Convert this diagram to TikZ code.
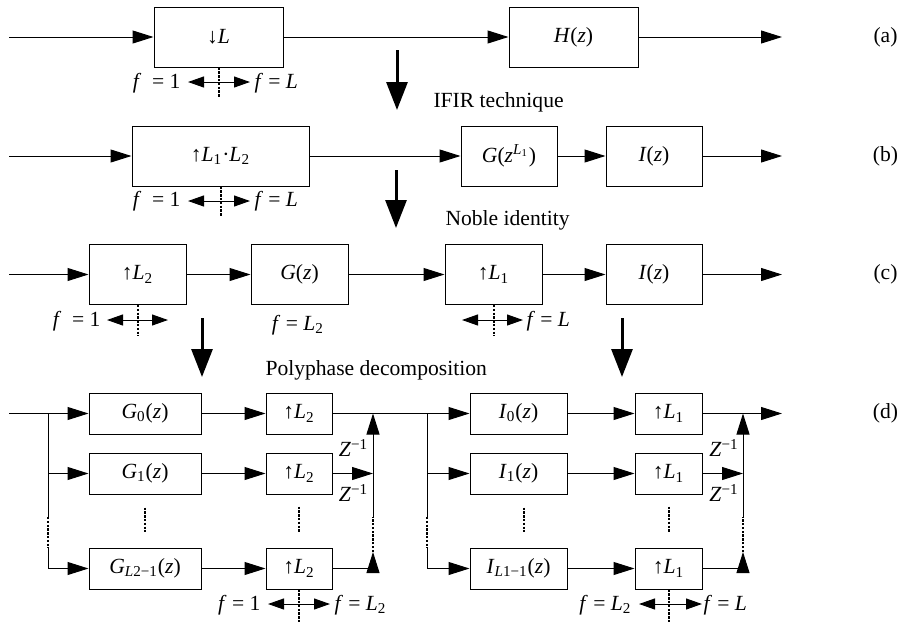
\documentclass[tikz,border=0pt]{standalone}
\usepackage{fontspec}
\setmainfont{Liberation Serif}
\usetikzlibrary{arrows.meta}
\begin{document}
\begin{tikzpicture}[x=0.5pt, y=-0.5pt, line width=0.5pt,
  font=\fontsize{10.8}{13}\selectfont,
  blk/.style={draw, inner sep=0pt, minimum height=30pt},
  sblk/.style={draw, inner sep=0pt, minimum height=20.5pt},
  sig/.style={-{Triangle[length=10.5pt,width=6.5pt]}},
  rng/.style={{Triangle[length=8pt,width=5.5pt]}-{Triangle[length=8pt,width=5.5pt]}},
  cut/.style={line width=1pt, dash pattern=on 1.2pt off 0.7pt},
  nextarr/.style={line width=1.5pt, -{Triangle[length=14pt,width=10.5pt]}},
  lbl/.style={inner sep=0pt}]
\useasboundingbox (0,0) rectangle (907,622);

% (a)
\node[blk, minimum width=64.5pt] (dn) at (218.5,37) {↓\textit{L}};
\node[blk, minimum width=64.5pt] (hz) at (573.5,37) {\textit{H}(\textit{z})};
\coordinate (ain) at (9,37);
\coordinate (aout) at (782,37);
\draw[sig] (ain) -- (dn);
\draw[sig] (dn) -- (hz);
\draw[sig] (hz) -- (aout);
\node (la) at (885.5,37) {(a)};
\draw[cut] (dn.south) -- ++(0,30);
\draw[rng] (188,82) -- (250,82);
\node[lbl, anchor=base east] (fa1) at (181,88) {\textit{f}\enspace= 1};
\node[lbl, anchor=base west] (fa2) at (254,88) {\textit{f} = \textit{L}};
\draw[nextarr] (397,50) -- (397,110);
\node[lbl, anchor=base west] (t1) at (433,107) {IFIR technique};

% (b)
\node[blk, minimum width=88.5pt] (up) at (220.5,156) {↑\textit{L}\textsubscript{1}·\textit{L}\textsubscript{2}};
\node[blk, minimum width=48pt] (gl) at (509,156) {\textit{G}(\textit{z}\textsuperscript{\textit{L}\textsubscript{1}})};
\node[blk, minimum width=48pt] (ib) at (654,156) {\textit{I}(\textit{z})};
\coordinate (bin) at (9,156);
\coordinate (bout) at (782,156);
\draw[sig] (bin) -- (up);
\draw[sig] (up) -- (gl);
\draw[sig] (gl) -- (ib);
\draw[sig] (ib) -- (bout);
\node (lb) at (885.5,156) {(b)};
\draw[cut] (up.south) -- ++(0,30);
\draw[rng] (188,201) -- (250,201);
\node[lbl, anchor=base east] (fb1) at (181,206) {\textit{f}\enspace= 1};
\node[lbl, anchor=base west] (fb2) at (254,206) {\textit{f} = \textit{L}};
\draw[nextarr] (396,170) -- (396,228);
\node[lbl, anchor=base west] (t2) at (445,225) {Noble identity};

% (c)
\node[blk, minimum width=48.5pt] (upb) at (137.5,274.5) {↑\textit{L}\textsubscript{2}};
\node[blk, minimum width=48.5pt] (gz) at (299.5,274.5) {\textit{G}(\textit{z})};
\node[blk, minimum width=48.5pt] (upa) at (493.5,274.5) {↑\textit{L}\textsubscript{1}};
\node[blk, minimum width=48pt] (ic) at (654,274.5) {\textit{I}(\textit{z})};
\coordinate (cin) at (9,274.5);
\coordinate (cout) at (782,274.5);
\draw[sig] (cin) -- (upb);
\draw[sig] (upb) -- (gz);
\draw[sig] (gz) -- (upa);
\draw[sig] (upa) -- (ic);
\draw[sig] (ic) -- (cout);
\node (lc) at (885.5,274.5) {(c)};
\draw[cut] (upb.south) -- ++(0,31);
\draw[rng] (107,320) -- (168,320);
\node[lbl, anchor=base east] (fc1) at (101,326) {\textit{f}\enspace= 1};
\node[lbl, anchor=base] (fc2) at (298,330) {\textit{f} = \textit{L}\textsubscript{2}};
\draw[cut] (upa.south) -- ++(0,31);
\draw[rng] (462,320) -- (523,320);
\node[lbl, anchor=base west] (fc3) at (526,326) {\textit{f} = \textit{L}};
\draw[nextarr] (202,318) -- (202,377);
\draw[nextarr] (622,318) -- (622,377);
\node[lbl, anchor=base west] (t3) at (265,375) {Polyphase decomposition};

% (d)
\foreach \k/\y/\s/\t in {0/413.5/0/0, 1/473.5/1/1, 2/568.5/{\textit{L}2−1}/{\textit{L}1−1}} {
  \node[sblk, minimum width=56pt] (g\k) at (145,\y) {\textit{G}\textsubscript{\s}(\textit{z})};
  \node[sblk, minimum width=33pt] (ug\k) at (299,\y) {↑\textit{L}\textsubscript{2}};
  \node[sblk, minimum width=48.5pt] (i\k) at (518.5,\y) {\textit{I}\textsubscript{\t}(\textit{z})};
  \node[sblk, minimum width=33.5pt] (ui\k) at (668.5,\y) {↑\textit{L}\textsubscript{1}};
  \draw[sig] (g\k) -- (ug\k);
  \draw[sig] (i\k) -- (ui\k);
}
\coordinate (din) at (9,413.5);
\coordinate (gs) at (48,413.5);
\coordinate (gs1) at (48,517);
\coordinate (gs2) at (48,548);
\coordinate (gj) at (373,413.5);
\coordinate (gj1) at (373,517);
\coordinate (gj2) at (373,552);
\coordinate (is) at (427,413.5);
\coordinate (is1) at (427,517);
\coordinate (is2) at (427,548);
\coordinate (ij) at (743,413.5);
\coordinate (ij1) at (743,517);
\coordinate (ij2) at (743,552);
\coordinate (dout) at (782,413.5);
\node (ld) at (885.5,413.5) {(d)};

\draw (din) -- (gs);
\draw[sig] (gs) -- (g0);
\draw[sig] (gs |- g1) -- (g1);
\draw (gs) -- (gs1);
\draw[cut] (gs1) -- (gs2);
\draw[sig] (gs2) |- (g2);
\draw[cut] ([yshift=-6.5pt]g1.south) -- ([yshift=8pt]g2.north);
\draw[cut] ([yshift=-6pt]ug1.south) -- ([yshift=7.5pt]ug2.north);

\draw (ug0) -- (is);
\draw[sig] (ug1) -- (gj |- ug1);
\draw[sig] (ug2) -| (gj2);
\draw[cut] (gj2) -- (gj1);
\draw[sig] (gj1) -- (gj);
\node (z1) at (353.5,448) {\textit{Z}\textsuperscript{−1}};
\node (z2) at (353.5,493) {\textit{Z}\textsuperscript{−1}};

\draw[sig] (is) -- (i0);
\draw[sig] (is |- i1) -- (i1);
\draw (is) -- (is1);
\draw[cut] (is1) -- (is2);
\draw[sig] (is2) |- (i2);
\draw[cut] ([xshift=2.5pt,yshift=-6.5pt]i1.south) -- ([xshift=2.5pt,yshift=8pt]i2.north);
\draw[cut] ([yshift=-6pt]ui1.south) -- ([yshift=7.5pt]ui2.north);

\draw[sig] (ui0) -- (dout);
\draw[sig] (ui1) -- (ij |- ui1);
\draw[sig] (ui2) -| (ij2);
\draw[cut] (ij2) -- (ij1);
\draw[sig] (ij1) -- (ij);
\node (z3) at (724,448) {\textit{Z}\textsuperscript{−1}};
\node (z4) at (724,493) {\textit{Z}\textsuperscript{−1}};

\draw[cut] (ug2.south) -- ++(0,33);
\draw[rng] (268,604) -- (330,604);
\node[lbl, anchor=base east] (fd1) at (261,610) {\textit{f} = 1};
\node[lbl, anchor=base west] (fd2) at (334,610) {\textit{f} = \textit{L}\textsubscript{2}};
\draw[cut] (ui2.south) -- ++(0,33);
\draw[rng] (639,604) -- (702,604);
\node[lbl, anchor=base east] (fd3) at (632,610) {\textit{f} = \textit{L}\textsubscript{2}};
\node[lbl, anchor=base west] (fd4) at (703,610) {\textit{f} = \textit{L}};
\end{tikzpicture}
\end{document}
